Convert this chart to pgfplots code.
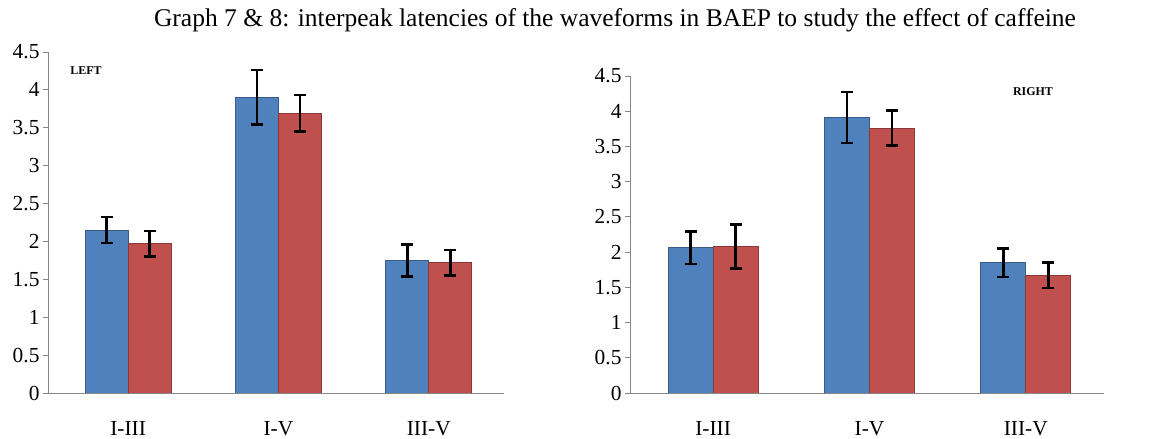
\documentclass[border=0pt]{standalone}
\usepackage{fontspec}
\setmainfont{Liberation Serif}
\usepackage{pgfplots}
\pgfplotsset{compat=1.18}
\definecolor{barblue}{HTML}{4F81BD}
\definecolor{barred}{HTML}{C0504D}
\definecolor{edgeblue}{HTML}{385D8A}
\definecolor{edgered}{HTML}{8C3836}
\definecolor{axgray}{HTML}{868686}
\pgfplotsset{
  myaxis/.style={
    scale only axis,
    anchor=south west,
    ybar=0pt,
    ymin=0, ymax=4.5,
    ytick={0,0.5,1,1.5,2,2.5,3,3.5,4,4.5},
    xtick={0,1,2}, xticklabels={I-III,I-V,III-V},
    extra x ticks={-0.5,0.5,1.5,2.5},
    extra x tick labels={},
    extra x tick style={major tick length=7bp, major tick style={draw=axgray, line width=1bp}},
    major x tick style={draw=none},
    axis x line*=bottom, axis y line*=left,
    axis line style={draw=axgray, line width=1bp},
    tick align=outside,
    major tick length=5bp,
    major y tick style={draw=axgray, line width=1bp},
    /pgf/number format/assume math mode=true,
    tick label style={font=\fontsize{21.5}{21.5}\selectfont},
    xticklabel style={anchor=base, yshift=-37bp},
    error bars/y dir=both,
    error bars/y explicit,
    error bars/error bar style={line width=2.5bp, black},
    error bars/error mark options={rotate=90, mark size=6bp, line width=2.5bp, black},
  },
  bluebar/.style={draw=edgeblue, fill=barblue, line width=1bp},
  redbar/.style={draw=edgered, fill=barred, line width=1bp},
}
\begin{document}
\begin{tikzpicture}
\useasboundingbox (0,0) rectangle (1152bp,439bp);
\node[font=\fontsize{25.6}{25.6}\selectfont] at (615bp,419bp) {Graph 7 \& 8: interpeak latencies of the waveforms in BAEP to study the effect of caffeine};

% LEFT panel
\begin{axis}[myaxis, at={(48bp,46bp)}, width=456bp, height=341bp,
  xmin=-0.533, xmax=2.5, bar width=43bp]
\addplot[bluebar] coordinates {(0,2.15) +- (0,0.17) (1,3.90) +- (0,0.36) (2,1.75) +- (0,0.21)};
\addplot[redbar] coordinates {(0,1.97) +- (0,0.17) (1,3.69) +- (0,0.24) (2,1.72) +- (0,0.17)};
\end{axis}
\node[font=\bfseries\fontsize{12}{12}\selectfont] at (86bp,368bp) {LEFT};

% RIGHT panel
\begin{axis}[myaxis, at={(630bp,46bp)}, width=474bp, height=317bp,
  xmin=-0.532, xmax=2.5, bar width=45bp]
\addplot[bluebar] coordinates {(0,2.06) +- (0,0.23) (1,3.91) +- (0,0.36) (2,1.85) +- (0,0.20)};
\addplot[redbar] coordinates {(0,2.08) +- (0,0.31) (1,3.76) +- (0,0.25) (2,1.67) +- (0,0.18)};
\end{axis}
\node[font=\bfseries\fontsize{12}{12}\selectfont] at (1033bp,347bp) {RIGHT};
\end{tikzpicture}
\end{document}
